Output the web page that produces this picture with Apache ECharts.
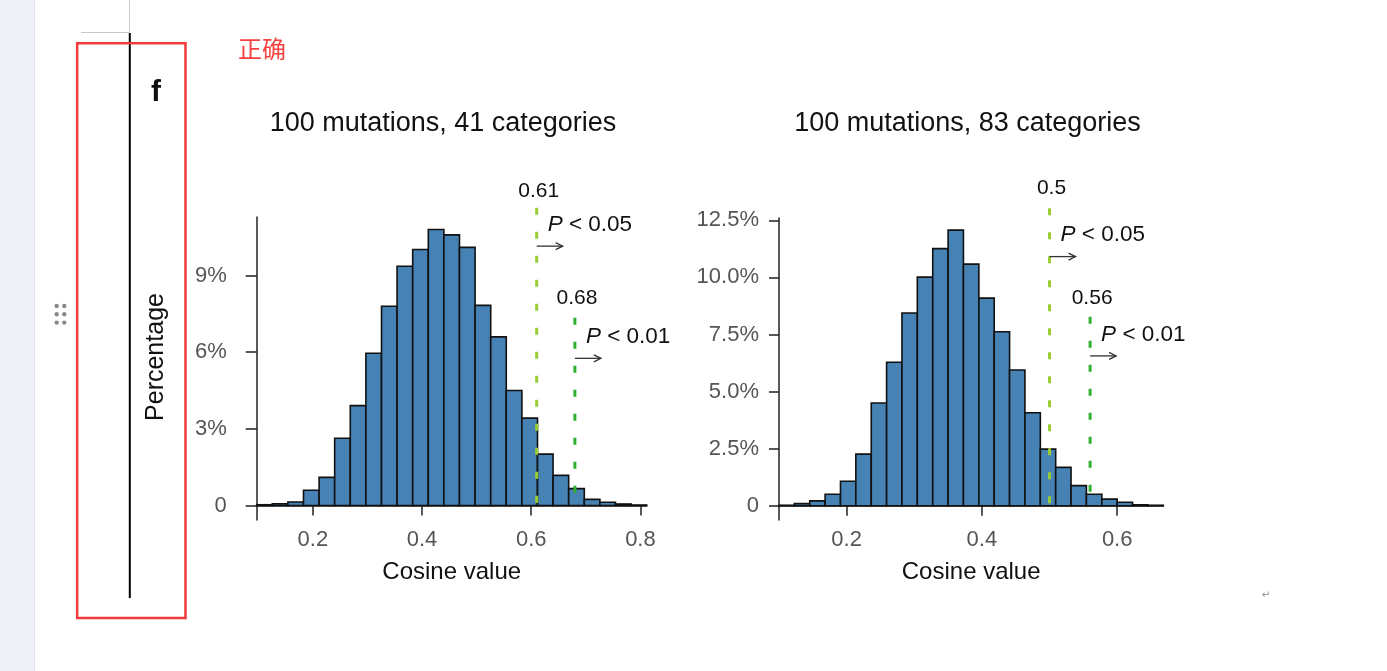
<!DOCTYPE html>
<html><head><meta charset="utf-8">
<script src="https://cdn.jsdelivr.net/npm/echarts@6/dist/echarts.min.js"></script>
<style>html,body{margin:0;padding:0;background:#fff}#c{width:1387px;height:671px}</style>
</head><body><div id="c"></div>
<script>
// ---------- data ----------
const leftTitle = '100 mutations, 41 categories';
const rightTitle = '100 mutations, 83 categories';
const xAxisTitle = 'Cosine value';
const yAxisTitle = 'Percentage';

const leftBinEdges = [0.0972, 0.1258, 0.1543, 0.1829, 0.2115, 0.2400, 0.2686, 0.2972, 0.3258, 0.3543, 0.3829, 0.4115, 0.4400, 0.4686, 0.4972, 0.5258, 0.5543, 0.5829, 0.6115, 0.6400, 0.6686, 0.6972, 0.7258, 0.7543, 0.7829, 0.8115];
const leftValues = [0.03, 0.07, 0.14, 0.60, 1.10, 2.63, 3.91, 5.96, 7.80, 9.36, 10.02, 10.80, 10.59, 10.10, 7.83, 6.60, 4.50, 3.42, 2.01, 1.18, 0.66, 0.24, 0.13, 0.06, 0.02];

const rightBinEdges = [0.1000, 0.1227, 0.1455, 0.1682, 0.1909, 0.2136, 0.2364, 0.2591, 0.2818, 0.3045, 0.3273, 0.3500, 0.3727, 0.3955, 0.4182, 0.4409, 0.4636, 0.4864, 0.5091, 0.5318, 0.5545, 0.5773, 0.6000, 0.6227, 0.6455, 0.6682];
const rightValues = [0.02, 0.09, 0.21, 0.50, 1.07, 2.26, 4.50, 6.28, 8.44, 10.01, 11.26, 12.07, 10.58, 9.09, 7.62, 5.94, 4.07, 2.48, 1.68, 0.88, 0.50, 0.29, 0.15, 0.04, 0.02];

const leftXTicks = [0.2, 0.4, 0.6, 0.8];
const leftYTicks = [0, 3, 6, 9];
const rightXTicks = [0.2, 0.4, 0.6];
const rightYTicks = [0, 2.5, 5, 7.5, 10, 12.5];

// thresholds (cosine value) and annotation levels (in % units of each chart)
const leftThresholds = [0.61, 0.68];
const leftLineTop = [11.65, 7.35];
const leftNumY = [12.28, 8.11];
const leftPY = [10.97, 6.60];
const leftArrowY = [10.15, 5.76];

const rightThresholds = [0.5, 0.56];
const rightLineTop = [13.03, 8.28];
const rightNumY = [13.90, 9.08];
const rightPY = [11.86, 7.48];
const rightArrowY = [10.91, 6.56];

const pLabels = ['< 0.05', '< 0.01'];

// ---------- styling ----------
const FONT = '"Liberation Sans", Arial, Helvetica, sans-serif';
const lineColors = ['#9acd32', '#30b030'];

function barSeries(edges, values, idx) {
  return {
    type: 'custom', xAxisIndex: idx, yAxisIndex: idx, silent: true, z: 2,
    data: values.map((v, i) => [edges[i], edges[i + 1], v]),
    encode: { x: [0, 1], y: 2 },
    renderItem(params, api) {
      const a = api.coord([api.value(0), api.value(2)]);
      const b = api.coord([api.value(1), 0]);
      return {
        type: 'rect',
        shape: { x: a[0], y: a[1], width: b[0] - a[0], height: b[1] - a[1] },
        style: { fill: '#4682b4', stroke: '#111', lineWidth: 1.6 }
      };
    }
  };
}

function annSeries(th, top, numY, pY, arrY, idx) {
  return {
    type: 'custom', xAxisIndex: idx, yAxisIndex: idx, silent: true, z: 5, clip: false,
    data: th.map((x, i) => [x, top[i]]),
    encode: { x: 0, y: 1 },
    renderItem(params, api) {
      const i = params.dataIndex;
      const x = th[i];
      const pt = api.coord([x, top[i]]);
      const pb = api.coord([x, 0]);
      const pn = api.coord([x, numY[i]]);
      const pp = api.coord([x, pY[i]]);
      const pa = api.coord([x, arrY[i]]);
      const ax0 = pa[0], ax1 = pa[0] + 26, ay = pa[1];
      return {
        type: 'group',
        children: [
          { type: 'line', shape: { x1: pt[0], y1: pt[1], x2: pb[0], y2: pb[1] },
            style: { stroke: lineColors[i], lineWidth: 3, lineDash: [7, 17] } },
          { type: 'text', x: pn[0] + 2, y: pn[1],
            style: { text: String(x), fill: '#111', fontSize: 21, fontFamily: FONT, align: 'center', verticalAlign: 'middle' } },
          { type: 'text', x: pp[0] + 11, y: pp[1],
            style: { text: '{i|P} ' + pLabels[i], fill: '#111', fontSize: 22.5, fontFamily: FONT, align: 'left', verticalAlign: 'middle',
              rich: { i: { fontStyle: 'italic', fontSize: 22.5, fontFamily: FONT, fill: '#111' } } } },
          { type: 'line', shape: { x1: ax0, y1: ay, x2: ax1, y2: ay }, style: { stroke: '#333', lineWidth: 1.3 } },
          { type: 'polyline', shape: { points: [[ax1 - 7, ay - 3.5], [ax1, ay], [ax1 - 7, ay + 3.5]] }, style: { stroke: '#333', lineWidth: 1.3, fill: null } }
        ]
      };
    }
  };
}

function xAxis(idx, min, max, ticks) {
  return {
    type: 'value', gridIndex: idx, min, max,
    axisLine: { show: true, onZero: true, lineStyle: { color: '#222', width: 1.5 } },
    axisTick: { show: true, customValues: ticks, length: 10, inside: false, lineStyle: { color: '#222', width: 1.5 } },
    axisLabel: { customValues: ticks, fontSize: 22, fontFamily: FONT, color: '#555', margin: 9 },
    splitLine: { show: false },
    name: xAxisTitle, nameLocation: 'middle', nameGap: 52,
    nameTextStyle: { fontSize: 24, fontFamily: FONT, color: '#111', verticalAlign: 'middle' }
  };
}

function yAxis(idx, min, max, ticks, tickLen, margin, fmt) {
  return {
    type: 'value', gridIndex: idx, min, max,
    axisLine: { show: true, onZero: false, lineStyle: { color: '#222', width: 1.5 } },
    axisTick: { show: true, customValues: ticks, length: tickLen, inside: false, lineStyle: { color: '#222', width: 1.5 } },
    axisLabel: { customValues: ticks, fontSize: 22, fontFamily: FONT, color: '#555', margin, formatter: fmt },
    splitLine: { show: false }
  };
}

const dots = [];
[306, 314.3, 322.6].forEach(y => [56.7, 64.3].forEach(x => dots.push({ type: 'circle', shape: { cx: x, cy: y, r: 2.2 }, style: { fill: '#8a8a8a' } })));

const chart = echarts.init(document.getElementById('c'), null, { renderer: 'canvas' });
chart.setOption({
  animation: false,
  backgroundColor: '#ffffff',
  grid: [
    { left: 256.7, top: 217, width: 390, height: 303 },
    { left: 779, top: 218, width: 384.3, height: 302 }
  ],
  xAxis: [
    xAxis(0, leftBinEdges[0], leftBinEdges[leftBinEdges.length - 1], leftXTicks),
    xAxis(1, rightBinEdges[0], rightBinEdges[rightBinEdges.length - 1], rightXTicks)
  ],
  yAxis: [
    yAxis(0, -0.567, 11.29, leftYTicks, 11, 30, v => v === 0 ? '0' : v + '%'),
    yAxis(1, -0.626, 12.60, rightYTicks, 10, 20, v => v === 0 ? '0' : v.toFixed(1) + '%')
  ],
  series: [
    barSeries(leftBinEdges, leftValues, 0),
    barSeries(rightBinEdges, rightValues, 1),
    annSeries(leftThresholds, leftLineTop, leftNumY, leftPY, leftArrowY, 0),
    annSeries(rightThresholds, rightLineTop, rightNumY, rightPY, rightArrowY, 1)
  ],
  graphic: [
    { type: 'rect', shape: { x: 0, y: 0, width: 34, height: 671 }, style: { fill: '#eef2f6' }, z: 0 },
    { type: 'line', shape: { x1: 34.5, y1: 0, x2: 34.5, y2: 671 }, style: { stroke: '#dde3e9', lineWidth: 1 } },
    { type: 'line', shape: { x1: 81, y1: 32.5, x2: 129.5, y2: 32.5 }, style: { stroke: '#c8c8c8', lineWidth: 1 } },
    { type: 'line', shape: { x1: 129.5, y1: 0, x2: 129.5, y2: 32 }, style: { stroke: '#c8c8c8', lineWidth: 1 } },
    { type: 'line', shape: { x1: 129.8, y1: 33, x2: 129.8, y2: 598 }, style: { stroke: '#000', lineWidth: 2 } },
    { type: 'rect', shape: { x: 77.2, y: 43.3, width: 108.3, height: 574.7 }, style: { fill: null, stroke: '#f23a3a', lineWidth: 2.5 } },
    { type: 'text', x: 238, y: 49, style: { text: '正确', fill: '#f5413f', fontSize: 24, fontFamily: '"Noto Sans CJK SC", sans-serif', align: 'left', verticalAlign: 'middle' } },
    { type: 'text', x: 156, y: 93, style: { text: 'f', fill: '#111', fontSize: 30, fontWeight: 'bold', fontFamily: FONT, align: 'center', verticalAlign: 'middle' } },
    { type: 'text', x: 156.5, y: 357, rotation: Math.PI / 2, style: { text: yAxisTitle, fill: '#111', fontSize: 25, fontFamily: FONT, align: 'center', verticalAlign: 'middle' } },
    { type: 'text', x: 443, y: 124, style: { text: leftTitle, fill: '#111', fontSize: 27, fontFamily: FONT, align: 'center', verticalAlign: 'middle' } },
    { type: 'text', x: 967.5, y: 124, style: { text: rightTitle, fill: '#111', fontSize: 27, fontFamily: FONT, align: 'center', verticalAlign: 'middle' } },
    { type: 'text', x: 1266, y: 595, style: { text: '↵', fill: '#888', fontSize: 10, fontFamily: '"DejaVu Sans", sans-serif', align: 'center', verticalAlign: 'middle' } }
  ].concat(dots)
});
</script>
</body></html>
